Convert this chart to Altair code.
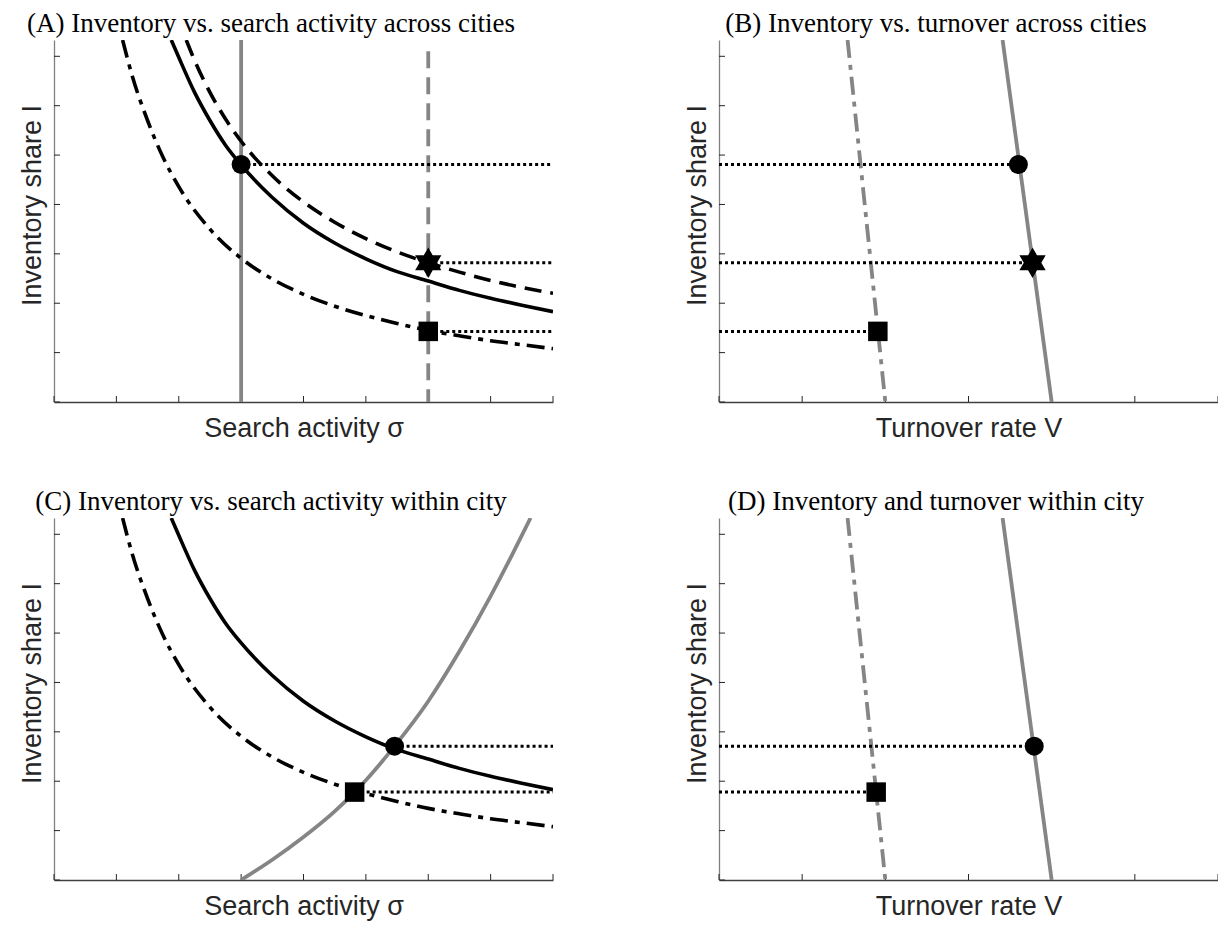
import altair as alt
import pandas as pd

# ---------------- values ----------------
# axes are in "tick units": sigma 0..8, turnover 0..6, inventory 0..7.33
SIGMA_TICKS = [0, 1, 2, 3, 4, 5, 6, 7, 8]
V_TICKS = [0, 1, 2, 3, 4, 5, 6]
I_TICKS = [0, 1, 2, 3, 4, 5, 6, 7]
SIGMA_MAX = 8.0
V_MAX = 6.0
I_MAX = 7.33

# black solid curve (panels A and C)
SOLID_X = [1.88, 2.0, 2.25, 2.5, 2.75, 3.0, 3.5, 4.0, 4.5, 5.0, 5.5, 6.0, 6.5, 7.0, 7.5, 8.0]
SOLID_Y = [7.33, 6.98, 6.28, 5.7, 5.2, 4.8, 4.14, 3.62, 3.22, 2.9, 2.64, 2.45, 2.26, 2.1, 1.96, 1.83]
# black dashed curve (panel A)
DASH_X = [2.12, 2.25, 2.5, 2.75, 3.0, 3.5, 4.0, 4.5, 5.0, 5.5, 6.0, 6.5, 7.0, 7.5, 8.0]
DASH_Y = [7.33, 6.93, 6.27, 5.73, 5.28, 4.58, 4.05, 3.64, 3.31, 3.04, 2.82, 2.63, 2.46, 2.32, 2.2]
# black dash-dot curve (panels A and C)
DASHDOT_X = [1.1, 1.25, 1.5, 1.75, 2.0, 2.5, 3.0, 3.5, 4.0, 4.5, 5.0, 5.5, 6.0, 6.5, 7.0, 7.5, 8.0]
DASHDOT_Y = [7.33, 6.62, 5.7, 4.95, 4.36, 3.5, 2.91, 2.49, 2.18, 1.94, 1.75, 1.59, 1.45, 1.34, 1.24, 1.16, 1.08]
# gray vertical lines (panel A): solid, dashed
GRAY_SOLID_SIGMA = 3.0
GRAY_DASHED_SIGMA = 6.0
GRAY_DASHED_TOP = 7.1
# gray rising curve (panel C)
GRAYC_X = [3.0, 3.5, 4.0, 4.5, 4.82, 5.0, 5.46, 6.0, 6.5, 7.0, 7.35, 7.64]
GRAYC_Y = [0.0, 0.41, 0.87, 1.39, 1.78, 2.02, 2.71, 3.62, 4.63, 5.75, 6.6, 7.33]
# gray steep lines (panels B and D)
GRAY_SOLID_V_X = [3.41, 4.0]
GRAY_SOLID_V_Y = [7.33, 0.0]
GRAY_DASHDOT_V_X = [1.546, 2.0]
GRAY_DASHDOT_V_Y = [7.33, 0.0]

# markers: (x, y)
A_CIRCLE = (3.0, 4.81)
A_STAR = (6.0, 2.82)
A_SQUARE = (6.0, 1.43)
B_CIRCLE = (3.6, 4.81)
B_STAR = (3.77, 2.82)
B_SQUARE = (1.91, 1.43)
C_CIRCLE = (5.46, 2.71)
C_SQUARE = (4.82, 1.78)
D_CIRCLE = (3.79, 2.71)
D_SQUARE = (1.89, 1.78)

TITLES = [
    "(A) Inventory vs. search activity across cities",
    "(B) Inventory vs. turnover across cities",
    "(C) Inventory vs. search activity within city",
    "(D) Inventory and turnover within city",
]
XLAB_SIGMA = "Search activity σ"
XLAB_V = "Turnover rate V"
YLAB = "Inventory share I"

# ---------------- styling ----------------
W, H = 499, 362
TICK_PX = 6
BLACK = "#000000"
GRAY = "#858585"
LW = 3.6
GLW = 3.8
DASH = [17, 9]
DASHDOT = [18, 7, 5, 7]
DOTTED = [3, 3]
HEXAGRAM = ("M0,-1L0.866,0.5L-0.866,0.5Z"
            "M0,1L-0.866,-0.5L0.866,-0.5Z")


def encs(xmax, xtitle):
    xax = alt.Axis(title=xtitle, labels=False, ticks=False, grid=False,
                   domainColor="#404040", domainWidth=1.3,
                   titleFont="Liberation Sans", titleFontSize=27,
                   titleFontWeight="normal", titleColor="#262626",
                   titlePadding=34, titleBaseline="alphabetic")
    yax = alt.Axis(title=YLAB, labels=False, ticks=False, grid=False,
                   domainColor="#808080", domainWidth=1.3,
                   titleFont="Liberation Sans", titleFontSize=27,
                   titleFontWeight="normal", titleColor="#262626",
                   titlePadding=14, titleBaseline="alphabetic", titleY=165)
    X = alt.X("x:Q", scale=alt.Scale(domain=[0, xmax], nice=False, zero=False), axis=xax)
    Y = alt.Y("y:Q", scale=alt.Scale(domain=[0, I_MAX], nice=False, zero=False), axis=yax)
    return X, Y


def line(xs, ys, X, Y, color, width, dash=None, interp="monotone"):
    df = pd.DataFrame({"x": xs, "y": ys, "i": list(range(len(xs)))})
    kw = dict(color=color, strokeWidth=width, clip=True, interpolate=interp)
    if dash:
        kw["strokeDash"] = dash
    return alt.Chart(df).mark_line(**kw).encode(x=X, y=Y, order="i:Q")


def dotted(segs, X, Y):
    rows = []
    for k, (x0, x1, y) in enumerate(segs):
        rows.append({"x": x0, "y": y, "seg": k, "i": 0})
        rows.append({"x": x1, "y": y, "seg": k, "i": 1})
    return alt.Chart(pd.DataFrame(rows)).mark_line(
        color=BLACK, strokeWidth=3, strokeDash=DOTTED, clip=True
    ).encode(x=X, y=Y, detail="seg:N", order="i:Q")


def marker(pt, X, Y, shape, size):
    df = pd.DataFrame({"x": [pt[0]], "y": [pt[1]]})
    return alt.Chart(df).mark_point(shape=shape, size=size, filled=True,
                                    color=BLACK, opacity=1, strokeWidth=0).encode(x=X, y=Y)


def ticks(xticks, xmax, X, Y):
    ty = TICK_PX / H * I_MAX
    tx = TICK_PX / W * xmax
    dfx = pd.DataFrame({"x": xticks, "y": [0.0] * len(xticks), "y2": [ty] * len(xticks)})
    dfy = pd.DataFrame({"y": I_TICKS, "x": [0.0] * len(I_TICKS), "x2": [tx] * len(I_TICKS)})
    rx = alt.Chart(dfx).mark_rule(color="#262626", strokeWidth=1).encode(x=X, y=Y, y2="y2:Q")
    ry = alt.Chart(dfy).mark_rule(color="#262626", strokeWidth=1).encode(y=Y, x=X, x2="x2:Q")
    return [rx, ry]


def title(t):
    return alt.TitleParams(text=t, font="Liberation Serif", fontSize=27,
                           fontWeight="normal", color="black", anchor="middle",
                           dx=-32.5, dy=30, baseline="alphabetic", offset=11)


CIRCLE_SIZE = 360
SQUARE_SIZE = 380
STAR_SIZE = 920

# ---------------- panel A ----------------
X, Y = encs(SIGMA_MAX, XLAB_SIGMA)
pA = alt.layer(
    *ticks(SIGMA_TICKS, SIGMA_MAX, X, Y),
    line([GRAY_SOLID_SIGMA, GRAY_SOLID_SIGMA], [0.0, I_MAX], X, Y, GRAY, GLW, interp="linear"),
    line([GRAY_DASHED_SIGMA, GRAY_DASHED_SIGMA], [GRAY_DASHED_TOP, 0.0], X, Y, GRAY, GLW, DASH, interp="linear"),
    line(DASHDOT_X, DASHDOT_Y, X, Y, BLACK, LW, DASHDOT),
    line(DASH_X, DASH_Y, X, Y, BLACK, LW, DASH),
    line(SOLID_X, SOLID_Y, X, Y, BLACK, LW),
    dotted([(A_CIRCLE[0], SIGMA_MAX, A_CIRCLE[1]),
            (A_STAR[0], SIGMA_MAX, A_STAR[1]),
            (A_SQUARE[0], SIGMA_MAX, A_SQUARE[1])], X, Y),
    marker(A_CIRCLE, X, Y, "circle", CIRCLE_SIZE),
    marker(A_STAR, X, Y, HEXAGRAM, STAR_SIZE),
    marker(A_SQUARE, X, Y, "square", SQUARE_SIZE),
).properties(width=W, height=H, title=title(TITLES[0]))

# ---------------- panel B ----------------
X, Y = encs(V_MAX, XLAB_V)
pB = alt.layer(
    *ticks(V_TICKS, V_MAX, X, Y),
    line(GRAY_SOLID_V_X, GRAY_SOLID_V_Y, X, Y, GRAY, GLW, interp="linear"),
    line(GRAY_DASHDOT_V_X, GRAY_DASHDOT_V_Y, X, Y, GRAY, GLW, DASHDOT, interp="linear"),
    dotted([(0.0, B_CIRCLE[0], B_CIRCLE[1]),
            (0.0, B_STAR[0], B_STAR[1]),
            (0.0, B_SQUARE[0], B_SQUARE[1])], X, Y),
    marker(B_CIRCLE, X, Y, "circle", CIRCLE_SIZE),
    marker(B_STAR, X, Y, HEXAGRAM, STAR_SIZE),
    marker(B_SQUARE, X, Y, "square", SQUARE_SIZE),
).properties(width=W, height=H, title=title(TITLES[1]))

# ---------------- panel C ----------------
X, Y = encs(SIGMA_MAX, XLAB_SIGMA)
pC = alt.layer(
    *ticks(SIGMA_TICKS, SIGMA_MAX, X, Y),
    line(GRAYC_X, GRAYC_Y, X, Y, GRAY, GLW),
    line(DASHDOT_X, DASHDOT_Y, X, Y, BLACK, LW, DASHDOT),
    line(SOLID_X, SOLID_Y, X, Y, BLACK, LW),
    dotted([(C_CIRCLE[0], SIGMA_MAX, C_CIRCLE[1]),
            (C_SQUARE[0], SIGMA_MAX, C_SQUARE[1])], X, Y),
    marker(C_CIRCLE, X, Y, "circle", CIRCLE_SIZE),
    marker(C_SQUARE, X, Y, "square", SQUARE_SIZE),
).properties(width=W, height=H, title=title(TITLES[2]))

# ---------------- panel D ----------------
X, Y = encs(V_MAX, XLAB_V)
pD = alt.layer(
    *ticks(V_TICKS, V_MAX, X, Y),
    line(GRAY_SOLID_V_X, GRAY_SOLID_V_Y, X, Y, GRAY, GLW, interp="linear"),
    line(GRAY_DASHDOT_V_X, GRAY_DASHDOT_V_Y, X, Y, GRAY, GLW, DASHDOT, interp="linear"),
    dotted([(0.0, D_CIRCLE[0], D_CIRCLE[1]),
            (0.0, D_SQUARE[0], D_SQUARE[1])], X, Y),
    marker(D_CIRCLE, X, Y, "circle", CIRCLE_SIZE),
    marker(D_SQUARE, X, Y, "square", SQUARE_SIZE),
).properties(width=W, height=H, title=title(TITLES[3]))

chart = alt.concat(
    pA, pB, pC, pD, columns=2, spacing={"row": 116, "column": 166}, bounds="flush"
).properties(
    autosize=alt.AutoSizeParams(type="none"),
    padding={"left": 46, "top": 32, "right": 1164, "bottom": 886},
).configure_view(stroke=None)

chart.save("out.html", embed_options={"renderer": "svg", "actions": False})
